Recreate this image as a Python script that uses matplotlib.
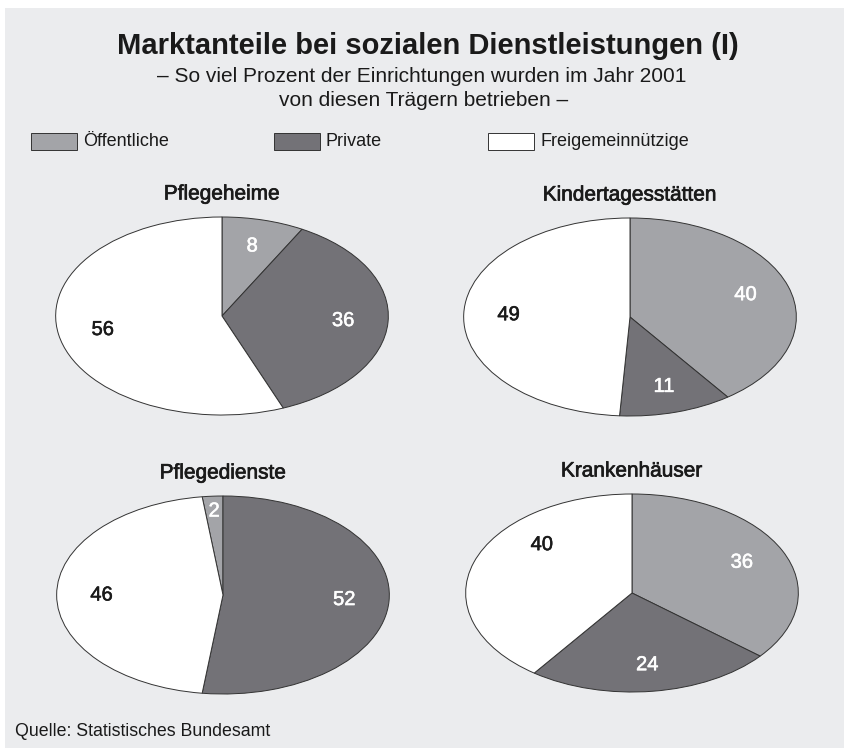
import matplotlib
matplotlib.use("Agg")
import matplotlib.pyplot as plt
import matplotlib.patheffects as pe
from matplotlib.patches import Rectangle
import numpy as np

plt.rcParams['font.family'] = ['Liberation Sans', 'DejaVu Sans']

# ---- data ----
title = "Marktanteile bei sozialen Dienstleistungen (I)"
subtitle = ["– So viel Prozent der Einrichtungen wurden im Jahr 2001",
            "von diesen Trägern betrieben –"]
categories = ["Öffentliche", "Private", "Freigemeinnützige"]
charts = ["Pflegeheime", "Kindertagesstätten", "Pflegedienste", "Krankenhäuser"]
pflegeheime = [8, 36, 56]
kindertagesstaetten = [40, 11, 49]
pflegedienste = [2, 52, 46]
krankenhaeuser = [36, 24, 40]
source = "Quelle: Statistisches Bundesamt"

values = [pflegeheime, kindertagesstaetten, pflegedienste, krankenhaeuser]

# ---- style ----
W, H = 845, 748
colors = ["#a3a4a8", "#737277", "#ffffff"]
label_colors = ["white", "white", "#1a1a1a"]
bg = "#ebecee"
txt = "#1a1a1a"
# pie centres (px), radii (px)
centres = [(222, 316), (630, 317), (223, 595), (632, 593)]
rx, ry = 168, 100
# Öffentliche wedge ends at 12 o'clock for Pflegedienste (else starts there)
ends_at_top = [False, False, True, False]
label_dist = 0.73
label_adjust = {(2, 0): (0.85, 0.0), (3, 2): (0.73, -24.0)}

fig = plt.figure(figsize=(W / 100, H / 100), dpi=100)
fig.patch.set_facecolor("white")

def fx(x):
    return x / W

def fy(y):
    return 1 - y / H

def heavy(color, lw=0.45):
    return [pe.withStroke(linewidth=lw, foreground=color)]

fig.patches.append(Rectangle((fx(5), 0), 1 - fx(5), fy(8), transform=fig.transFigure,
                             facecolor=bg, edgecolor="none", zorder=-5))

fig.text(fx(428), fy(46), title, ha="center", va="center", fontsize=21,
         fontweight="bold", color=txt)
fig.text(fx(422), fy(76), subtitle[0], ha="center", va="center", fontsize=15, color=txt)
fig.text(fx(424), fy(101), subtitle[1], ha="center", va="center", fontsize=15, color=txt)

# legend
leg_x = [31, 274, 488]
for i, cat in enumerate(categories):
    fig.patches.append(Rectangle((fx(leg_x[i]), fy(150)), 46 / W, 17 / H,
                                 transform=fig.transFigure, facecolor=colors[i],
                                 edgecolor="#333333", linewidth=0.7, zorder=2))
    fig.text(fx(leg_x[i] + 52), fy(141.5), cat, ha="left", va="center",
             fontsize=13, color=txt)

for k, (name, vals) in enumerate(zip(charts, values)):
    cx, cy = centres[k]
    ax = fig.add_axes([fx(cx - rx), fy(cy + ry), 2 * rx / W, 2 * ry / H])
    start = 90 + 360 * vals[0] / sum(vals) if ends_at_top[k] else 90
    wedges, _ = ax.pie(vals, colors=colors, startangle=start, counterclock=False,
                       radius=1, frame=True,
                       wedgeprops=dict(edgecolor="#333333", linewidth=0.7))
    ax.set_xlim(-1.01, 1.01)
    ax.set_ylim(-1.01, 1.01)
    ax.set_aspect("auto")
    ax.axis("off")
    for i, w in enumerate(wedges):
        d, shift = label_adjust.get((k, i), (label_dist, 0.0))
        th = np.deg2rad((w.theta1 + w.theta2) / 2 + shift)
        ax.text(d * np.cos(th), d * np.sin(th), str(vals[i]), ha="center", va="center",
                fontsize=14.5, color=label_colors[i],
                path_effects=heavy(label_colors[i], 0.4))
    fig.text(fx(cx), fy(cy - ry - 22), name, ha="center", va="center",
             fontsize=15, color=txt, path_effects=heavy(txt, 0.5))

fig.text(fx(15), fy(732), source, ha="left", va="center", fontsize=12.8, color=txt)

fig.savefig("out.png", dpi=100, facecolor=fig.get_facecolor())
